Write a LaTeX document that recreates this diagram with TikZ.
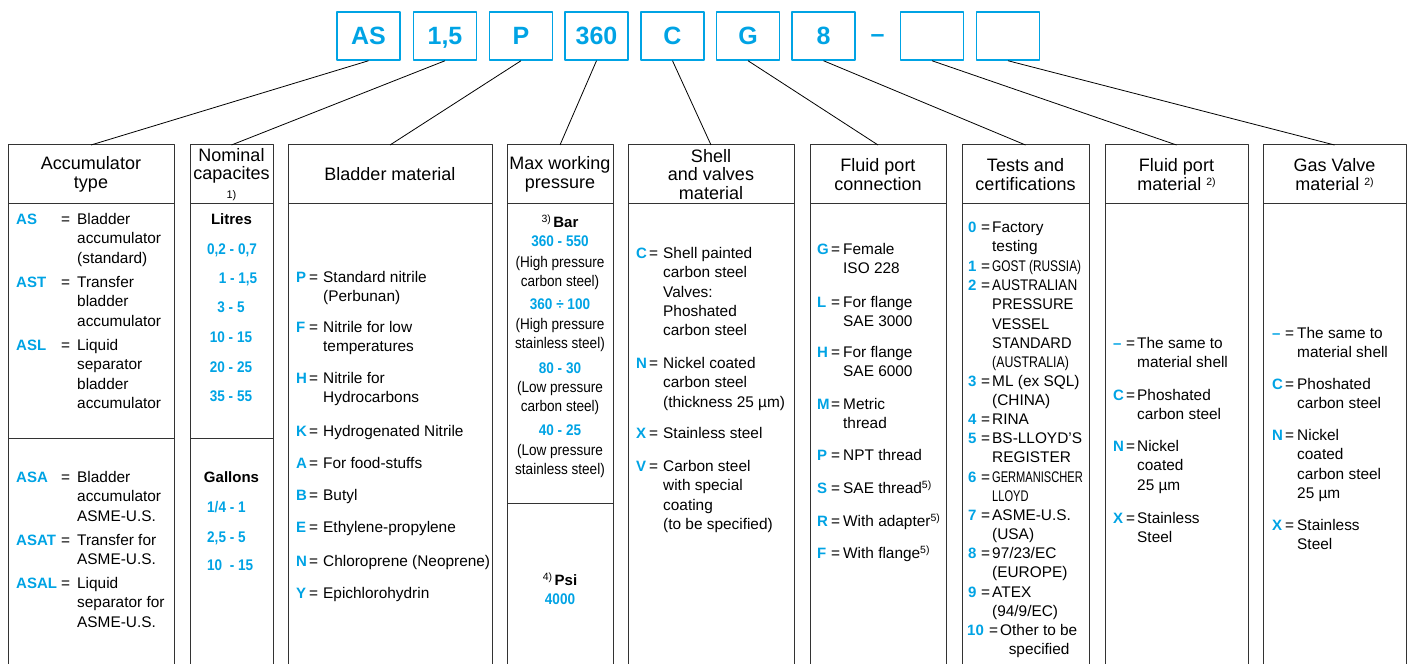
\documentclass[tikz,border=0pt]{standalone}
\usepackage{fontspec}
\setmainfont{Liberation Sans}
\newfontfamily\narrowfont{Liberation Sans}[FakeStretch=0.88]
\usepackage{graphicx}
\usetikzlibrary{positioning}
\definecolor{keyblue}{RGB}{0,163,228}
\newcommand{\eqto}[1]{\makebox[#1][l]{=}}
\newcommand{\textrows}[1]{\begin{tabular}[t]{@{}l@{}}#1\end{tabular}}
\newcommand{\midrows}[1]{\begin{tabular}[t]{@{}c@{}}#1\end{tabular}}
\newcommand{\refmark}[1]{\raisebox{5bp}{\fontsize{10.5bp}{12bp}\selectfont\mdseries #1}}
\begin{document}
\begin{tikzpicture}[>=latex,line join=bevel,
    tag/.style={draw=keyblue,line width=1.5bp,rectangle,minimum width=63bp,minimum height=48bp,inner sep=0pt,
        text height=18bp,text depth=0bp,text=keyblue,font=\fontsize{25bp}{28bp}\selectfont\bfseries},
    head/.style={draw=black!80,line width=1bp,rectangle,minimum height=59bp,inner sep=0pt,outer sep=0pt,
        align=center,font=\fontsize{18bp}{18.5bp}\selectfont},
    body/.style={draw=black!80,line width=1bp,rectangle,minimum height=480bp,inner sep=0pt,outer sep=0pt,below=0pt of #1},
    rule/.style={draw=black!80,line width=1bp},
    link/.style={draw=black,line width=0.8bp},
    key/.style={anchor=base west,inner sep=0pt,text=keyblue,font=\fontsize{15bp}{19.3bp}\selectfont\bfseries},
    desc/.style={anchor=base west,inner sep=0pt,font=\fontsize{15.4bp}{19.3bp}\selectfont},
    val/.style={anchor=base,inner sep=0pt,text=keyblue,font=\narrowfont\fontsize{15.4bp}{18bp}\selectfont\bfseries},
    unit/.style={anchor=base,inner sep=0pt,font=\fontsize{15bp}{18bp}\selectfont\bfseries},
    note/.style={anchor=base,inner sep=0pt,font=\narrowfont\fontsize{15.4bp}{18.8bp}\selectfont},
    ]
    \useasboundingbox (0bp,0bp) rectangle (1412bp,664bp);
    %%
    \node (type) at (368.5bp,628.0bp) [tag] {AS};
    \node (size) at (445.0bp,628.0bp) [tag] {1,5};
    \node (bmat) at (521.0bp,628.0bp) [tag] {P};
    \node (press) at (596.5bp,628.0bp) [tag] {360};
    \node (smat) at (672.5bp,628.0bp) [tag] {C};
    \node (conn) at (748.0bp,628.0bp) [tag] {G};
    \node (cert) at (823.5bp,628.0bp) [tag] {8};
    \node (sep) at (877.5bp,621.5bp) [anchor=base,inner sep=0pt,text=keyblue,font=\fontsize{25bp}{28bp}\selectfont\bfseries] {–};
    \node (fmat) at (932.0bp,628.0bp) [tag] {};
    \node (gvalve) at (1008.0bp,628.0bp) [tag] {};
    %%
    \node (typehead) at (91.0bp,489.5bp) [head,minimum width=166bp] {Accumulator\\type};
    \node (sizehead) at (231.5bp,489.5bp) [head,minimum width=83bp] {Nominal\\capacites\\{\fontsize{11bp}{12bp}\selectfont 1)}};
    \node (bmathead) at (390.0bp,489.5bp) [head,minimum width=204bp] {Bladder material};
    \node (presshead) at (560.0bp,489.5bp) [head,minimum width=106bp] {Max working\\pressure};
    \node (smathead) at (711.0bp,489.5bp) [head,minimum width=166bp] {Shell\\and valves\\material};
    \node (connhead) at (878.0bp,489.5bp) [head,minimum width=136bp] {Fluid port\\connection};
    \node (certhead) at (1025.5bp,489.5bp) [head,minimum width=127bp] {Tests and\\certifications};
    \node (fmathead) at (1176.5bp,489.5bp) [head,minimum width=143bp] {Fluid port\\material \refmark{2)}};
    \node (gvalvehead) at (1334.5bp,489.5bp) [head,minimum width=143bp] {Gas Valve\\material \refmark{2)}};
    \node (typebody) [body=typehead,minimum width=166bp] {};
    \node (sizebody) [body=sizehead,minimum width=83bp] {};
    \node (bmatbody) [body=bmathead,minimum width=204bp] {};
    \node (pressbody) [body=presshead,minimum width=106bp] {};
    \node (smatbody) [body=smathead,minimum width=166bp] {};
    \node (connbody) [body=connhead,minimum width=136bp] {};
    \node (certbody) [body=certhead,minimum width=127bp] {};
    \node (fmatbody) [body=fmathead,minimum width=143bp] {};
    \node (gvalvebody) [body=gvalvehead,minimum width=143bp] {};
    \coordinate (split) at (0bp,225.0bp);
    \coordinate (psisplit) at (0bp,160.0bp);
    \draw [rule] (typebody.west |- split) -- (typebody.east |- split);
    \draw [rule] (sizebody.west |- split) -- (sizebody.east |- split);
    \draw [rule] (pressbody.west |- psisplit) -- (pressbody.east |- psisplit);
    %%
    \draw [link] (type.south) -- (typehead.north);
    \draw [link] (size.south) -- (sizehead.north);
    \draw [link] (bmat.south) -- (bmathead.north);
    \draw [link] (press.south) -- (presshead.north);
    \draw [link] (smat.south) -- (smathead.north);
    \draw [link] (conn.south) -- (connhead.north);
    \draw [link] (cert.south) -- (certhead.north);
    \draw [link] (fmat.south) -- (fmathead.north);
    \draw [link] (gvalve.south) -- (gvalvehead.north);
    %% accumulator type
    \node (as) at (16bp,439.5bp) [key] {AS};
    \node (as-d) at (61bp,439.5bp) [desc] {\eqto{16bp}\textrows{Bladder\\accumulator\\(standard)}};
    \node (ast) at (16bp,376.5bp) [key] {AST};
    \node (ast-d) at (61bp,376.5bp) [desc] {\eqto{16bp}\textrows{Transfer\\bladder\\accumulator}};
    \node (asl) at (16bp,313.5bp) [key] {ASL};
    \node (asl-d) at (61bp,313.5bp) [desc] {\eqto{16bp}\textrows{Liquid\\separator\\bladder\\accumulator}};
    \node (asa) at (16bp,181.5bp) [key] {ASA};
    \node (asa-d) at (61bp,181.5bp) [desc] {\eqto{16bp}\textrows{Bladder\\accumulator\\ASME-U.S.}};
    \node (asat) at (16bp,118.5bp) [key] {ASAT};
    \node (asat-d) at (61bp,118.5bp) [desc] {\eqto{16bp}\textrows{Transfer for\\ASME-U.S.}};
    \node (asal) at (16bp,75.5bp) [key] {ASAL};
    \node (asal-d) at (61bp,75.5bp) [desc] {\eqto{16bp}\textrows{Liquid\\separator for\\ASME-U.S.}};
    %% nominal capacites
    \node (litres) at (231.5bp,439.5bp) [unit] {Litres};
    \node (l1) at (232bp,409.5bp) [val] {0,2 - 0,7};
    \node (l2) at (238bp,380.5bp) [val] {1 - 1,5};
    \node (l3) at (231bp,351.5bp) [val] {3 - 5};
    \node (l4) at (231bp,321.5bp) [val] {10 - 15};
    \node (l5) at (231bp,291.5bp) [val] {20 - 25};
    \node (l6) at (231bp,262.5bp) [val] {35 - 55};
    \node (gallons) at (231.5bp,181.5bp) [unit] {Gallons};
    \node (g1) at (207bp,151.5bp) [val,anchor=base west] {1/4 - 1};
    \node (g2) at (207bp,121.5bp) [val,anchor=base west] {2,5 - 5};
    \node (g3) at (207bp,93.5bp) [val,anchor=base west] {10\ \ - 15};
    %% bladder material
    \node (bp) at (296bp,381.5bp) [key] {P};
    \node (bp-d) at (309bp,381.5bp) [desc] {\eqto{14bp}\textrows{Standard nitrile\\(Perbunan)}};
    \node (bf) at (296bp,331.5bp) [key] {F};
    \node (bf-d) at (309bp,331.5bp) [desc] {\eqto{14bp}\textrows{Nitrile for low\\temperatures}};
    \node (bh) at (296bp,280.5bp) [key] {H};
    \node (bh-d) at (309bp,280.5bp) [desc] {\eqto{14bp}\textrows{Nitrile for\\Hydrocarbons}};
    \node (bk) at (296bp,227.5bp) [key] {K};
    \node (bk-d) at (309bp,227.5bp) [desc] {\eqto{14bp}Hydrogenated Nitrile};
    \node (ba) at (296bp,195.5bp) [key] {A};
    \node (ba-d) at (309bp,195.5bp) [desc] {\eqto{14bp}For food-stuffs};
    \node (bb) at (296bp,163.5bp) [key] {B};
    \node (bb-d) at (309bp,163.5bp) [desc] {\eqto{14bp}Butyl};
    \node (be) at (296bp,131.5bp) [key] {E};
    \node (be-d) at (309bp,131.5bp) [desc] {\eqto{14bp}Ethylene-propylene};
    \node (bn) at (296bp,97.5bp) [key] {N};
    \node (bn-d) at (309bp,97.5bp) [desc] {\eqto{14bp}Chloroprene (Neoprene)};
    \node (by) at (296bp,65.5bp) [key] {Y};
    \node (by-d) at (309bp,65.5bp) [desc] {\eqto{14bp}Epichlorohydrin};
    %% max working pressure
    \node (bar) at (560bp,436.5bp) [unit] {\refmark{3)}\,Bar};
    \node (p1) at (560bp,417.5bp) [val] {360 - 550};
    \node (p1-d) at (560bp,396.5bp) [note] {\midrows{(High pressure\\carbon steel)}};
    \node (p2) at (560bp,354.5bp) [val] {360 ÷ 100};
    \node (p2-d) at (560bp,334.5bp) [note] {\midrows{(High pressure\\stainless steel)}};
    \node (p3) at (560bp,290.5bp) [val] {80 - 30};
    \node (p3-d) at (560bp,271.5bp) [note] {\midrows{(Low pressure\\carbon steel)}};
    \node (p4) at (560bp,228.5bp) [val] {40 - 25};
    \node (p4-d) at (560bp,208.5bp) [note] {\midrows{(Low pressure\\stainless steel)}};
    \node (psi) at (560bp,78.5bp) [unit] {\refmark{4)}\,Psi};
    \node (p5) at (560bp,59.5bp) [val] {4000};
    %% shell and valves material
    \node (sc) at (636bp,405.5bp) [key] {C};
    \node (sc-d) at (649bp,405.5bp) [desc] {\eqto{14bp}\textrows{Shell painted\\carbon steel\\Valves:\\Phoshated\\carbon steel}};
    \node (sn) at (636bp,295.5bp) [key] {N};
    \node (sn-d) at (649bp,295.5bp) [desc] {\eqto{14bp}\textrows{Nickel coated\\carbon steel\\(thickness 25 µm)}};
    \node (sx) at (636bp,225.5bp) [key] {X};
    \node (sx-d) at (649bp,225.5bp) [desc] {\eqto{14bp}Stainless steel};
    \node (sv) at (636bp,192.5bp) [key] {V};
    \node (sv-d) at (649bp,192.5bp) [desc] {\eqto{14bp}\textrows{Carbon steel\\with special\\coating\\(to be specified)}};
    %% fluid port connection
    \node (cg) at (817bp,409.5bp) [key] {G};
    \node (cg-d) at (831bp,409.5bp) [desc] {\eqto{12bp}\textrows{Female\\ISO 228}};
    \node (cl) at (817bp,356.5bp) [key] {L};
    \node (cl-d) at (831bp,356.5bp) [desc] {\eqto{12bp}\textrows{For flange\\SAE 3000}};
    \node (ch) at (817bp,306.5bp) [key] {H};
    \node (ch-d) at (831bp,306.5bp) [desc] {\eqto{12bp}\textrows{For flange\\SAE 6000}};
    \node (cm) at (817bp,254.5bp) [key] {M};
    \node (cm-d) at (831bp,254.5bp) [desc] {\eqto{12bp}\textrows{Metric\\thread}};
    \node (cp) at (817bp,203.5bp) [key] {P};
    \node (cp-d) at (831bp,203.5bp) [desc] {\eqto{12bp}NPT thread};
    \node (cs) at (817bp,170.5bp) [key] {S};
    \node (cs-d) at (831bp,170.5bp) [desc] {\eqto{12bp}SAE thread\refmark{5)}};
    \node (cr) at (817bp,137.5bp) [key] {R};
    \node (cr-d) at (831bp,137.5bp) [desc] {\eqto{12bp}With adapter\refmark{5)}};
    \node (cf) at (817bp,105.5bp) [key] {F};
    \node (cf-d) at (831bp,105.5bp) [desc] {\eqto{12bp}With flange\refmark{5)}};
    %% tests and certifications
    \node (t0) at (968bp,431.5bp) [key] {0};
    \node (t0-d) at (981bp,431.5bp) [desc] {\eqto{11bp}\textrows{Factory\\testing}};
    \node (t1) at (968bp,392.5bp) [key] {1};
    \node (t1-d) at (981bp,392.5bp) [desc] {\eqto{11bp}\scalebox{0.77}[1]{GOST (RUSSIA)}};
    \node (t2) at (968bp,373.5bp) [key] {2};
    \node (t2-d) at (981bp,373.5bp) [desc] {\eqto{11bp}\textrows{\scalebox{0.88}[1]{AUSTRALIAN}\\\scalebox{0.96}[1]{PRESSURE}\\\scalebox{0.95}[1]{VESSEL}\\\scalebox{0.95}[1]{STANDARD}\\\scalebox{0.8}[1]{(AUSTRALIA)}}};
    \node (t3) at (968bp,277.5bp) [key] {3};
    \node (t3-d) at (981bp,277.5bp) [desc] {\eqto{11bp}\textrows{ML (ex SQL)\\(CHINA)}};
    \node (t4) at (968bp,239.5bp) [key] {4};
    \node (t4-d) at (981bp,239.5bp) [desc] {\eqto{11bp}RINA};
    \node (t5) at (968bp,220.5bp) [key] {5};
    \node (t5-d) at (981bp,220.5bp) [desc] {\eqto{11bp}\textrows{BS-LLOYD'S\\REGISTER}};
    \node (t6) at (968bp,181.5bp) [key] {6};
    \node (t6-d) at (981bp,181.5bp) [desc] {\eqto{11bp}\textrows{\scalebox{0.72}[1]{GERMANISCHER}\\\scalebox{0.72}[1]{LLOYD}}};
    \node (t7) at (968bp,143.5bp) [key] {7};
    \node (t7-d) at (981bp,143.5bp) [desc] {\eqto{11bp}\textrows{ASME-U.S.\\(USA)}};
    \node (t8) at (968bp,105.5bp) [key] {8};
    \node (t8-d) at (981bp,105.5bp) [desc] {\eqto{11bp}\textrows{97/23/EC\\(EUROPE)}};
    \node (t9) at (968bp,66.5bp) [key] {9};
    \node (t9-d) at (981bp,66.5bp) [desc] {\eqto{11bp}\textrows{ATEX\\(94/9/EC)}};
    \node (t10) at (967bp,28.5bp) [key] {10};
    \node (t10-d) at (989bp,28.5bp) [desc] {\eqto{11bp}\textrows{Other to be\\\ \ specified}};
    %% fluid port material
    \node (fd) at (1113bp,315.5bp) [key] {–};
    \node (fd-d) at (1126bp,315.5bp) [desc] {\eqto{11bp}\textrows{The same to\\material shell}};
    \node (fc) at (1113bp,263.5bp) [key] {C};
    \node (fc-d) at (1126bp,263.5bp) [desc] {\eqto{11bp}\textrows{Phoshated\\carbon steel}};
    \node (fn) at (1113bp,212.5bp) [key] {N};
    \node (fn-d) at (1126bp,212.5bp) [desc] {\eqto{11bp}\textrows{Nickel\\coated\\25 µm}};
    \node (fx) at (1113bp,140.5bp) [key] {X};
    \node (fx-d) at (1126bp,140.5bp) [desc] {\eqto{11bp}\textrows{Stainless\\Steel}};
    %% gas valve material
    \node (gd) at (1272bp,325.5bp) [key] {–};
    \node (gd-d) at (1285bp,325.5bp) [desc] {\eqto{12bp}\textrows{The same to\\material shell}};
    \node (gc) at (1272bp,274.5bp) [key] {C};
    \node (gc-d) at (1285bp,274.5bp) [desc] {\eqto{12bp}\textrows{Phoshated\\carbon steel}};
    \node (gn) at (1272bp,223.5bp) [key] {N};
    \node (gn-d) at (1285bp,223.5bp) [desc] {\eqto{12bp}\textrows{Nickel\\coated\\carbon steel\\25 µm}};
    \node (gx) at (1272bp,133.5bp) [key] {X};
    \node (gx-d) at (1285bp,133.5bp) [desc] {\eqto{12bp}\textrows{Stainless\\Steel}};
    %
\end{tikzpicture}
\end{document}
